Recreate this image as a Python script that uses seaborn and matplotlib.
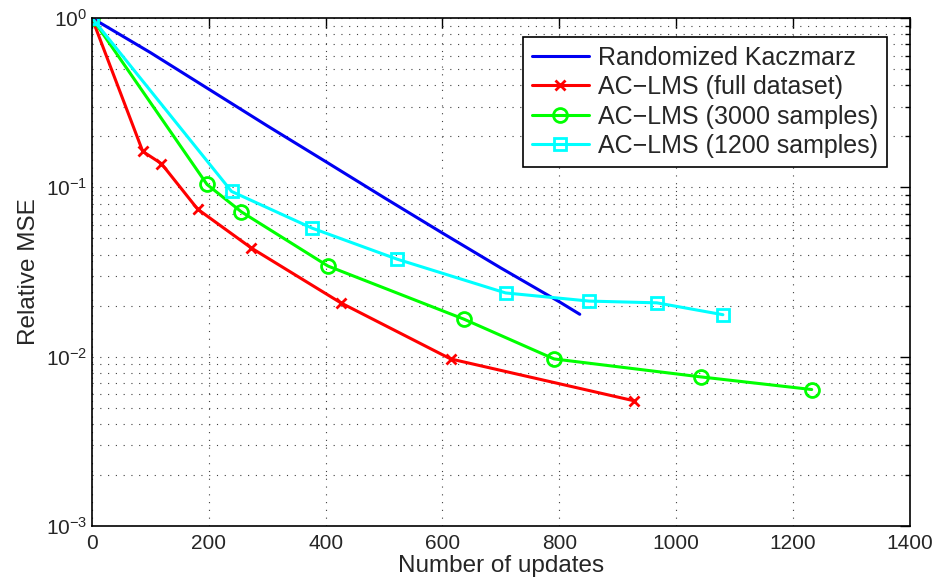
import matplotlib
matplotlib.use("Agg")
import matplotlib.pyplot as plt
import seaborn as sns
import pandas as pd
import numpy as np
from matplotlib.ticker import LogLocator, NullFormatter, FixedLocator

# ---- data ----
rk_x = [0, 100, 200, 300, 400, 500, 600, 700, 800, 835]
rk_y = [1.0, 0.625, 0.38, 0.231, 0.142, 0.087, 0.0537, 0.0334, 0.0211, 0.0178]

full_x = [0, 87, 119, 181, 273, 426, 614, 927]
full_y = [1.0, 0.163, 0.138, 0.0743, 0.0438, 0.0208, 0.0097, 0.0055]

s3000_x = [0, 197, 256, 404, 636, 791, 1042, 1232]
s3000_y = [1.0, 0.104, 0.0716, 0.0343, 0.0167, 0.0097, 0.0076, 0.0064]

s1200_x = [0, 239, 377, 522, 708, 851, 967, 1080]
s1200_y = [1.0, 0.0946, 0.0574, 0.0377, 0.0238, 0.0213, 0.0208, 0.0177]

labels = ["Randomized Kaczmarz", "AC\u2212LMS (full dataset)",
          "AC\u2212LMS (3000 samples)", "AC\u2212LMS (1200 samples)"]
x_ticks = [0, 200, 400, 600, 800, 1000, 1200, 1400]

sns.set_style("white")
plt.rcParams["font.family"] = ["Liberation Sans", "DejaVu Sans"]
plt.rcParams["mathtext.fontset"] = "custom"
plt.rcParams["mathtext.rm"] = "Liberation Sans"

fig = plt.figure(figsize=(9.38, 5.8), dpi=100)
ax = fig.add_axes([0.098, 0.093, 0.872, 0.876])

series = [
    (rk_x, rk_y, (0, 0, 0.95), None, 0),
    (full_x, full_y, (1, 0, 0), "x", 7),
    (s3000_x, s3000_y, (0, 1, 0), "o", 10),
    (s1200_x, s1200_y, (0, 1, 1), "s", 8),
]
for (xs, ys, col, mk, ms), lab in zip(series, labels):
    df = pd.DataFrame({"x": xs, "y": ys})
    kw = dict(marker=mk, markersize=ms, markerfacecolor="none",
              markeredgecolor=col, markeredgewidth=2) if mk else {}
    sns.lineplot(data=df, x="x", y="y", ax=ax, color=col, linewidth=2.2,
                 label=lab, sort=False, estimator=None, **kw)

ax.set_yscale("log")
ax.set_xlim(0, 1400)
ax.set_ylim(1e-3, 1)
ax.xaxis.set_major_locator(FixedLocator(x_ticks))
ax.yaxis.set_major_locator(LogLocator(base=10, numticks=10))
ax.yaxis.set_minor_locator(LogLocator(base=10, subs=np.arange(2, 10), numticks=10))
ax.yaxis.set_minor_formatter(NullFormatter())

gkw = dict(color="0.25", linestyle=(0, (1, 6)), linewidth=0.8)
ax.grid(True, which="major", axis="both", **gkw)
ax.grid(True, which="minor", axis="y", **gkw)

ax.tick_params(which="both", direction="in", top=True, right=True, labelsize=15,
               width=1, color="black")
ax.tick_params(which="major", length=7)
ax.tick_params(which="minor", length=3.5)
ax.tick_params(axis="x", pad=6)
for sp in ax.spines.values():
    sp.set_visible(True)
    sp.set_color("black")
    sp.set_linewidth(1.2)

ax.set_xlabel("Number of updates", fontsize=17.5, labelpad=1)
ax.set_ylabel("Relative MSE", fontsize=17.5, labelpad=4)

leg = ax.legend(loc="upper right", bbox_to_anchor=(0.972, 0.963), fontsize=18,
                frameon=True, fancybox=False, framealpha=1, edgecolor="black",
                handlelength=2.3, borderpad=0.35, labelspacing=0.22, handletextpad=0.35,
                borderaxespad=0)
leg.get_frame().set_linewidth(1.2)

fig.savefig("out.png", dpi=100)
